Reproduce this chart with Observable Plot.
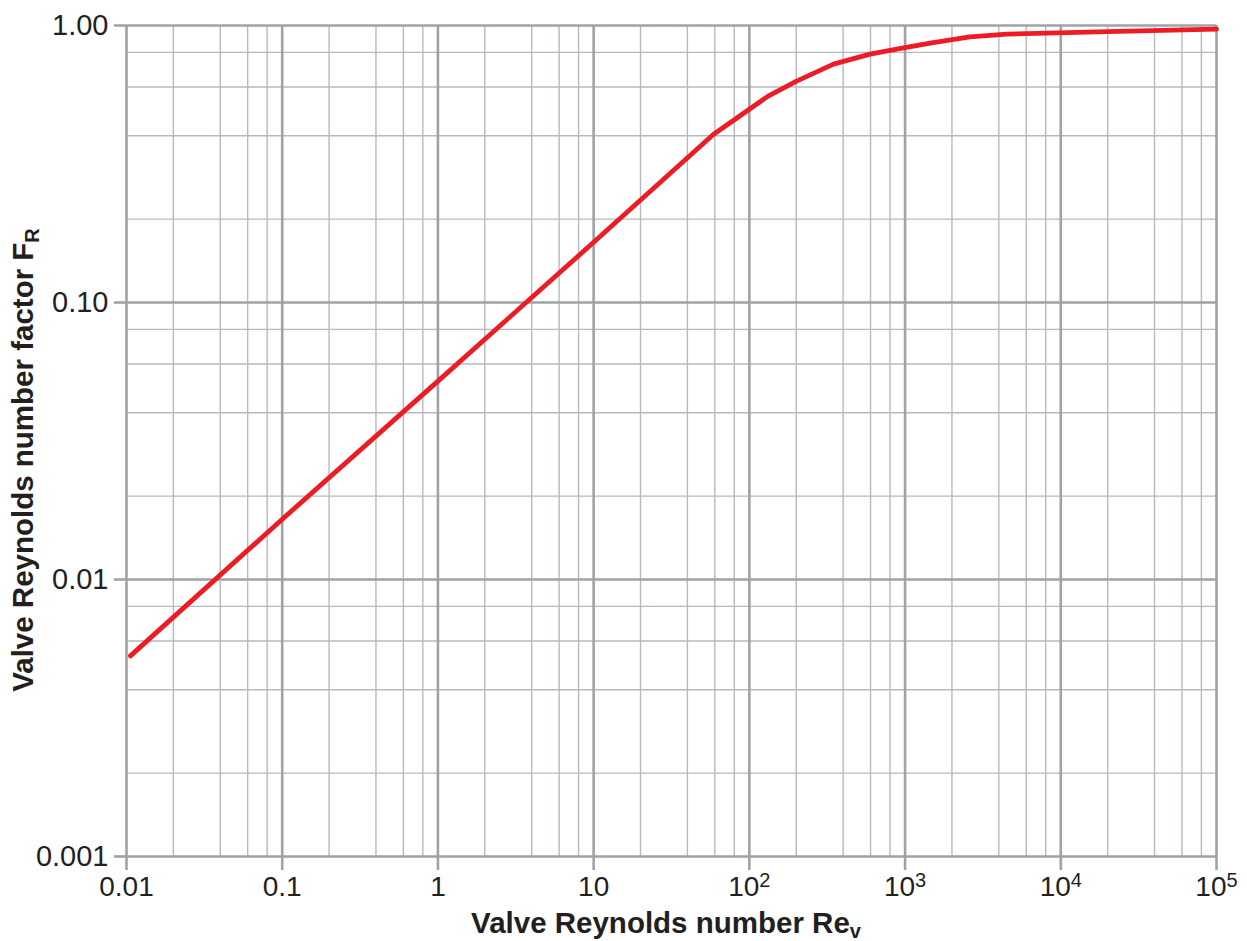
<!DOCTYPE html>
<html>
<head>
<meta charset="utf-8">
<script src="https://cdn.jsdelivr.net/npm/d3@7"></script>
<script src="https://cdn.jsdelivr.net/npm/@observablehq/plot@0.6"></script>
<style>
  html, body { margin: 0; padding: 0; background: #ffffff; }
  svg { font-family: "Liberation Sans", Arial, Helvetica, sans-serif; }
</style>
</head>
<body>
<script>
// ---- Data ----
const reynolds = [0.0106, 0.1, 1, 10, 58.7, 132, 201, 347, 596, 995, 1514, 2606, 4510, 20000, 100000];
const factorFR = [0.0053, 0.0165, 0.052, 0.165, 0.404, 0.556, 0.63, 0.725, 0.788, 0.832, 0.868, 0.91, 0.931, 0.951, 0.97];

// ---- Ticks / grid values ----
const xMajor = [0.01, 0.1, 1, 10, 100, 1000, 10000, 100000];
const xTickLabels = ["0.01", "0.1", "1", "10", "10^2", "10^3", "10^4", "10^5"];
const xMinor = [
  0.02, 0.04, 0.06, 0.08,
  0.2, 0.4, 0.6, 0.8,
  2, 4, 6, 8,
  20, 40, 60, 80,
  200, 400, 600, 800,
  2000, 4000, 6000, 8000,
  20000, 40000, 60000, 80000
];
const yMajor = [0.001, 0.01, 0.1, 1];
const yTickLabels = ["0.001", "0.01", "0.10", "1.00"];
const yMinor = [
  0.002, 0.004, 0.006, 0.008,
  0.02, 0.04, 0.06, 0.08,
  0.2, 0.4, 0.6, 0.8
];
const xTitle = ["Valve Reynolds number Re", "v"];
const yTitle = ["Valve Reynolds number factor F", "R"];

const table = reynolds.map((r, i) => ({re: r, fr: factorFR[i]}));

const majorColor = "#9fa2a7";
const minorColor = "#b6b9be";
const textColor = "#231f20";

const svg = Plot.plot({
  width: 1247,
  height: 941,
  marginLeft: 126,
  marginRight: 31,
  marginTop: 25,
  marginBottom: 85,
  style: {fontFamily: "'Liberation Sans', Arial, Helvetica, sans-serif", background: "#ffffff"},
  x: {type: "log", domain: [0.01, 100000]},
  y: {type: "log", domain: [0.001, 1]},
  marks: [
    Plot.gridX(xMinor, {stroke: minorColor, strokeWidth: 1.4, strokeOpacity: 1}),
    Plot.gridY(yMinor, {stroke: minorColor, strokeWidth: 1.4, strokeOpacity: 1}),
    Plot.gridX(xMajor, {stroke: majorColor, strokeWidth: 2.6, strokeOpacity: 1}),
    Plot.gridY(yMajor, {stroke: majorColor, strokeWidth: 2.6, strokeOpacity: 1}),
    Plot.line(table, {x: "re", y: "fr", stroke: "#ed1c24", strokeWidth: 4.8, strokeLinejoin: "round"}),
    Plot.axisX(xMajor, {
      anchor: "bottom", tickSize: 14, tickPadding: 6, stroke: majorColor, strokeWidth: 2.6,
      fill: textColor, fontSize: 28, label: null,
      tickFormat: (d) => xTickLabels[xMajor.indexOf(d)]
    }),
    Plot.axisY(yMajor, {
      anchor: "left", tickSize: 12, tickPadding: 6, stroke: majorColor, strokeWidth: 2.6,
      fill: textColor, fontSize: 29, label: null,
      tickFormat: (d) => yTickLabels[yMajor.indexOf(d)]
    })
  ]
});

// superscripts for 10^n tick labels
d3.select(svg).selectAll('g[aria-label="x-axis tick label"] text').each(function() {
  const t = this.textContent;
  const m = /^10\^(\d+)$/.exec(t);
  if (m) {
    const sel = d3.select(this);
    sel.text("10");
    sel.append("tspan").attr("dy", "-0.45em").attr("font-size", 20).text(m[1]);
  }
});

// axis titles with subscripts
const s = d3.select(svg);
const xt = s.append("text")
  .attr("x", 666).attr("y", 933)
  .attr("text-anchor", "middle")
  .attr("font-size", 29.5).attr("font-weight", "bold").attr("fill", textColor);
xt.append("tspan").text(xTitle[0]);
xt.append("tspan").attr("dy", 5).attr("font-size", 20).text(xTitle[1]);

const yt = s.append("text")
  .attr("transform", "translate(33,460) rotate(-90)")
  .attr("text-anchor", "middle")
  .attr("font-size", 29.5).attr("font-weight", "bold").attr("fill", textColor);
yt.append("tspan").text(yTitle[0]);
yt.append("tspan").attr("dy", 6).attr("font-size", 20).text(yTitle[1]);

document.body.appendChild(svg);
</script>
</body>
</html>
